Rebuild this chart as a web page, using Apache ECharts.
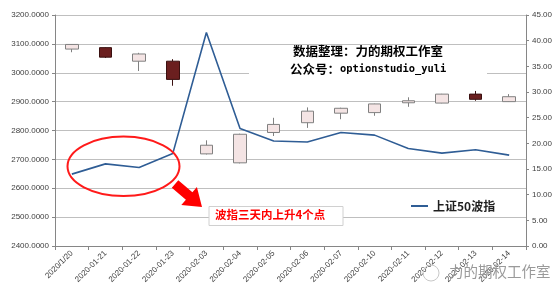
<!DOCTYPE html>
<html>
<head>
<meta charset="utf-8">
<script src="https://cdn.jsdelivr.net/npm/echarts@6/dist/echarts.min.js"></script>
<style>
html,body{margin:0;padding:0;background:#fff;}
#main{width:558px;height:297px;}
</style>
</head>
<body>
<div id="main"></div>
<script>
var categories = ['2020/1/20','2020-01-21','2020-01-22','2020-01-23','2020-02-03','2020-02-04','2020-02-05','2020-02-06','2020-02-07','2020-02-10','2020-02-11','2020-02-12','2020-02-13','2020-02-14'];
// [open, close, low, high]
var openVals  = [3082, 3087, 3040, 3040, 2719, 2688, 2793, 2827, 2860, 2862, 2896, 2895, 2926, 2900];
var closeVals = [3098, 3054, 3065, 2977, 2749, 2787, 2821, 2867, 2877, 2892, 2903, 2926, 2908, 2917];
var lowVals   = [3071, 3051, 3006, 2955, 2717, 2686, 2781, 2809, 2839, 2851, 2882, 2894, 2903, 2899];
var highVals  = [3099, 3088, 3069, 3047, 2766, 2789, 2844, 2880, 2879, 2893, 2915, 2927, 2937, 2926];
var volIndex  = [14.0, 16.0, 15.3, 18.0, 41.6, 22.9, 20.45, 20.25, 22.1, 21.6, 19.0, 18.1, 18.75, 17.7];
var lineName = '上证50波指';
var noteText = '波指三天内上升4个点';

var kData = categories.map(function(c, i){ return [openVals[i], closeVals[i], lowVals[i], highVals[i]]; });

var chart = echarts.init(document.getElementById('main'), null, {renderer:'canvas'});
var labelColor = '#404040';
var option = {
  backgroundColor: '#ffffff',
  animation: false,
  textStyle: {fontFamily: 'Liberation Sans, Arial, sans-serif'},
  grid: {left: 55, right: 32, top: 15, bottom: 51},
  legend: {
    data: [lineName], left: 406, top: 195, icon: 'rect', itemWidth: 17, itemHeight: 2,
    textStyle: {fontSize: 12, fontWeight: 'bold', color: '#1f1f1f', fontFamily: 'Noto Sans CJK SC'},
    itemGap: 4
  },
  xAxis: {
    type: 'category', data: categories, boundaryGap: true,
    axisLine: {lineStyle: {color: '#868686'}},
    axisTick: {show: true, length: 4, lineStyle: {color: '#868686'}},
    axisLabel: {rotate: 45, fontSize: 8, color: labelColor, margin: 6, interval: 0}
  },
  yAxis: [
    {type: 'value', min: 2400, max: 3200, interval: 100, position: 'left',
     axisLine: {show: true, lineStyle: {color: '#868686'}},
     axisTick: {show: true, length: 3, lineStyle: {color: '#868686'}},
     axisLabel: {fontSize: 8, color: labelColor, margin: 6, formatter: function(v){ return v.toFixed(4); }},
     splitLine: {show: true, lineStyle: {color: '#bfbfbf', width: 1}}},
    {type: 'value', min: 0, max: 45, interval: 5, position: 'right',
     axisLine: {show: true, lineStyle: {color: '#868686'}},
     axisTick: {show: true, length: 3, lineStyle: {color: '#868686'}},
     axisLabel: {fontSize: 8, color: labelColor, margin: 6, formatter: function(v){ return v.toFixed(2); }},
     splitLine: {show: false}}
  ],
  series: [
    {type: 'candlestick', name: 'K', data: kData, yAxisIndex: 0, barWidth: 13,
     itemStyle: {color: '#f4e4e4', color0: '#6b1f1f', borderColor: '#808080', borderColor0: '#3a1010', borderWidth: 1}},
    {type: 'line', name: lineName, data: volIndex, yAxisIndex: 1, symbol: 'none',
     lineStyle: {color: '#2f5d95', width: 1.6}, itemStyle: {color: '#2f5d95'}, z: 3}
  ],
  graphic: [
    {type: 'rect', shape: {x: 249, y: 45, width: 238, height: 31}, style: {fill: '#ffffff'}, z: 10},
    {type: 'text', left: 293, top: 45, z: 11,
     style: {text: '数据整理：力的期权工作室', font: 'bold 12.5px "Noto Sans CJK SC"', fill: '#000'}},
    {type: 'text', left: 290, top: 63, z: 11,
     style: {text: '{a|公众号：}{b|optionstudio_yuli}',
       rich: {a: {font: 'bold 12.5px "Noto Sans CJK SC"', fill: '#000'},
              b: {font: 'bold 10.4px "DejaVu Sans Mono"', fill: '#000'}}}},
    {type: 'ellipse', shape: {cx: 123.5, cy: 166.3, rx: 56, ry: 29.7}, style: {fill: 'none', stroke: '#ff1a1a', lineWidth: 2}, z: 12},
    {type: 'polygon', shape: {points: [[178.3,180.2],[192.4,192.2],[196.9,186.9],[202,207],[181.3,205.1],[185.9,199.8],[171.8,187.8]]},
     style: {fill: '#ff0000'}, z: 12},
    {type: 'rect', shape: {x: 209, y: 206.5, width: 134, height: 19}, style: {fill: '#ffffff', stroke: '#d0d0d0', lineWidth: 1}, z: 12},
    {type: 'text', left: 215, top: 208.5, z: 13,
     style: {text: noteText, font: 'bold 11.5px "Noto Sans CJK SC"', fill: '#ff0000'}},
    {type: 'circle', shape: {cx: 431, cy: 273, r: 8}, style: {fill: 'none', stroke: '#c8c8c8', lineWidth: 1}, z: 14},
    {type: 'text', left: 449, top: 264, z: 14,
     style: {text: '力的期权工作室', font: '14.5px "Noto Sans CJK SC"', fill: '#9a9a9a'}}
  ]
};
chart.setOption(option);
</script>
</body>
</html>
